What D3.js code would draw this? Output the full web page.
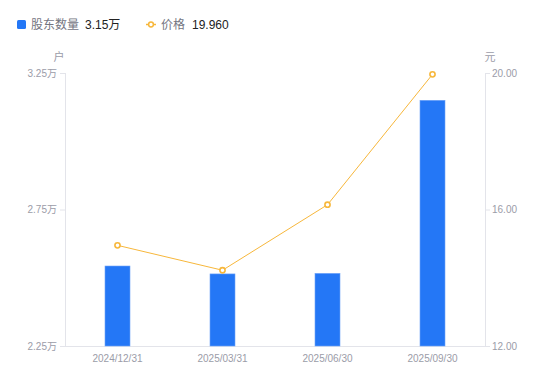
<!DOCTYPE html>
<html>
<head>
<meta charset="utf-8">
<script src="https://cdn.jsdelivr.net/npm/d3@7"></script>
<style>
  body { margin: 0; background: #fff; }
  svg { font-family: "Liberation Sans", Arial, "Noto Sans CJK SC", sans-serif; }
</style>
</head>
<body>
<svg width="550" height="381"></svg>
<script>
// data
var dates = ['2024/12/31', '2025/03/31', '2025/06/30', '2025/09/30'];
var holders = [2.543, 2.514, 2.516, 3.15];   // 万户
var prices = [14.95, 14.22, 16.14, 19.96];   // 元
var leftTicks = [2.25, 2.75, 3.25];
var rightTicks = [12, 16, 20];

var svg = d3.select('svg');
var pLeft = 65, pRight = 485, pTop = 73, pBottom = 346;
var axisColor = '#e3e4ea', labelColor = '#9b9ca8';
var barColor = '#2477f6', lineColor = '#f7b73b';

var x = d3.scaleBand().domain(dates).range([pLeft, pRight]);
var yL = d3.scaleLinear().domain([2.25, 3.25]).range([pBottom, pTop]);
var yR = d3.scaleLinear().domain([12, 20]).range([pBottom, pTop]);

// axes
var g = svg.append('g');
g.append('line').attr('x1', pLeft + 0.5).attr('x2', pLeft + 0.5).attr('y1', pTop).attr('y2', pBottom).attr('stroke', axisColor);
g.append('line').attr('x1', pRight + 0.5).attr('x2', pRight + 0.5).attr('y1', pTop).attr('y2', pBottom).attr('stroke', axisColor);
g.append('line').attr('x1', pLeft).attr('x2', pRight).attr('y1', pBottom + 0.5).attr('y2', pBottom + 0.5).attr('stroke', axisColor);

g.selectAll('.lt').data(leftTicks).enter().append('line')
  .attr('x1', pLeft - 5).attr('x2', pLeft).attr('y1', function(d){ return yL(d) + 0.5; }).attr('y2', function(d){ return yL(d) + 0.5; })
  .attr('stroke', axisColor);
g.selectAll('.ltx').data(leftTicks).enter().append('text')
  .attr('x', pLeft - 8).attr('y', function(d){ return yL(d); })
  .attr('dy', '0.35em').attr('text-anchor', 'end')
  .attr('font-size', 10).attr('fill', labelColor)
  .text(function(d){ return d.toFixed(2) + '万'; });

g.selectAll('.rt').data(rightTicks).enter().append('line')
  .attr('x1', pRight).attr('x2', pRight + 5).attr('y1', function(d){ return yR(d) + 0.5; }).attr('y2', function(d){ return yR(d) + 0.5; })
  .attr('stroke', axisColor);
g.selectAll('.rtx').data(rightTicks).enter().append('text')
  .attr('x', pRight + 7).attr('y', function(d){ return yR(d); })
  .attr('dy', '0.35em').attr('text-anchor', 'start')
  .attr('font-size', 10).attr('fill', labelColor)
  .text(function(d){ return d.toFixed(2); });

g.selectAll('.xt').data(dates).enter().append('text')
  .attr('x', function(d){ return x(d) + x.bandwidth() / 2; }).attr('y', 362)
  .attr('text-anchor', 'middle').attr('font-size', 10).attr('fill', labelColor)
  .text(function(d){ return d; });

// unit labels
g.append('text').attr('x', 59).attr('y', 61).attr('text-anchor', 'middle')
  .attr('font-size', 11).attr('fill', labelColor).text('户');
g.append('text').attr('x', 490).attr('y', 61).attr('text-anchor', 'middle')
  .attr('font-size', 11).attr('fill', labelColor).text('元');

// bars
var bw = 25;
svg.append('g').selectAll('rect').data(holders).enter().append('rect')
  .attr('x', function(d, i){ return x(dates[i]) + x.bandwidth() / 2 - bw / 2; })
  .attr('y', function(d){ return yL(d); })
  .attr('width', bw)
  .attr('height', function(d){ return pBottom - yL(d); })
  .attr('fill', barColor)
  .attr('stroke', '#6ea3f8').attr('stroke-width', 0.6);

// price line
var line = d3.line()
  .x(function(d, i){ return x(dates[i]) + x.bandwidth() / 2; })
  .y(function(d){ return yR(d); });
svg.append('path').datum(prices).attr('d', line)
  .attr('fill', 'none').attr('stroke', lineColor).attr('stroke-width', 1);
svg.append('g').selectAll('circle').data(prices).enter().append('circle')
  .attr('cx', function(d, i){ return x(dates[i]) + x.bandwidth() / 2; })
  .attr('cy', function(d){ return yR(d); })
  .attr('r', 2.6).attr('fill', '#fff').attr('stroke', lineColor).attr('stroke-width', 1.6);

// legend
var lg = svg.append('g');
lg.append('rect').attr('x', 17).attr('y', 20).attr('width', 9).attr('height', 9).attr('rx', 1.5).attr('fill', barColor);
lg.append('text').attr('x', 31).attr('y', 29).attr('font-size', 12).attr('fill', '#74757f').text('股东数量');
lg.append('text').attr('x', 85).attr('y', 29).attr('font-size', 12).attr('fill', '#222').text(holders[3].toFixed(2) + '万');
lg.append('line').attr('x1', 146).attr('x2', 156).attr('y1', 24.5).attr('y2', 24.5).attr('stroke', lineColor).attr('stroke-width', 1.5);
lg.append('circle').attr('cx', 151).attr('cy', 24.5).attr('r', 2.4).attr('fill', '#fff').attr('stroke', lineColor).attr('stroke-width', 1.5);
lg.append('text').attr('x', 161).attr('y', 29).attr('font-size', 12).attr('fill', '#74757f').text('价格');
lg.append('text').attr('x', 192).attr('y', 29).attr('font-size', 12).attr('fill', '#222').text(prices[3].toFixed(3));
</script>
</body>
</html>
